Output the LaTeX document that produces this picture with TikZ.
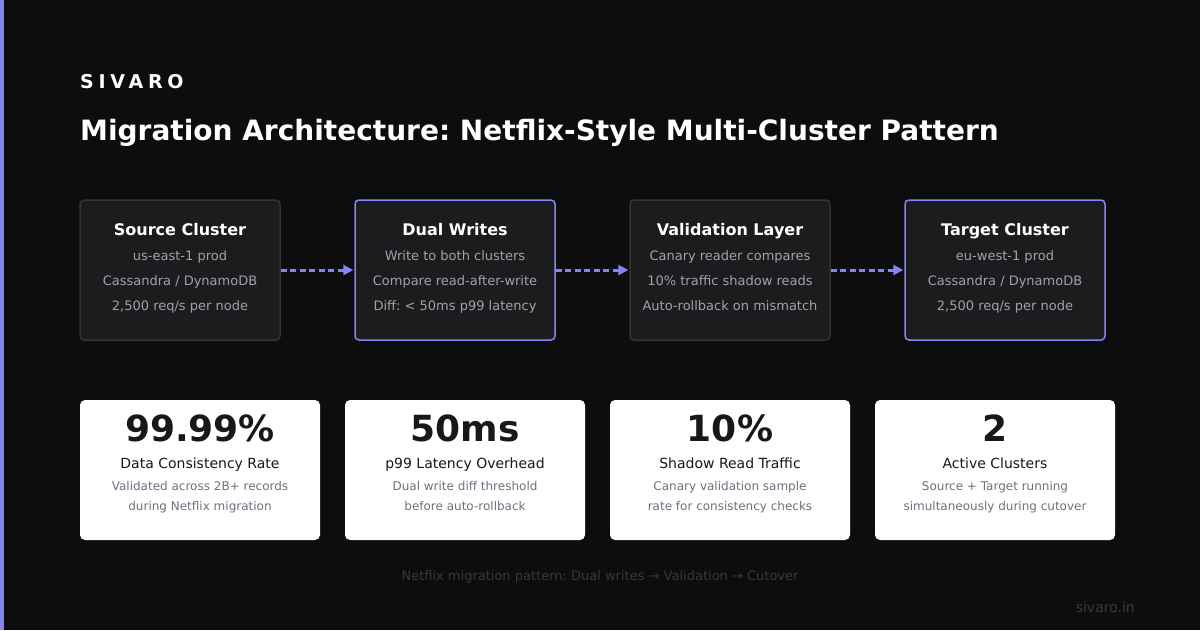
\documentclass[tikz,border=0pt]{standalone}
\usepackage{fontspec}
\setmainfont{DejaVu Sans}
\newfontfamily\brandfont[LetterSpace=25]{DejaVu Sans}
\usetikzlibrary{arrows.meta}
\frenchspacing

\definecolor{pagebg}{HTML}{0D0D0D}
\definecolor{accent}{HTML}{8186F4}
\definecolor{boxfill}{HTML}{1C1C1F}
\definecolor{boxline}{HTML}{333336}
\definecolor{boxtext}{HTML}{A1A1AA}
\definecolor{cardnum}{HTML}{18181B}
\definecolor{carddesc}{HTML}{6B7280}
\definecolor{foot}{HTML}{38383C}
\definecolor{sitetext}{HTML}{3A3A3E}

\begin{document}
\begin{tikzpicture}[x=1pt, y=-1pt,
    stagebox/.style={draw=boxline, line width=1.5pt, fill=boxfill, rounded corners=4pt,
        minimum width=200pt, minimum height=140pt, inner sep=0pt},
    hotbox/.style={stagebox, draw=accent},
    stagetitle/.style={anchor=base, text=white, font=\fontsize{16}{19}\selectfont\bfseries},
    stageline/.style={anchor=base, text=boxtext, font=\fontsize{13}{15}\selectfont},
    flow/.style={accent, line width=3pt, dash pattern=on 6pt off 3.5pt,
        -{Triangle[length=10pt, width=10pt]}, shorten >=1pt},
    statcard/.style={fill=white, rounded corners=5pt, minimum width=240pt,
        minimum height=140pt, inner sep=0pt},
    statnum/.style={anchor=base, text=cardnum, font=\fontsize{36}{40}\selectfont\bfseries},
    statlabel/.style={anchor=base, text=cardnum, font=\fontsize{14}{17}\selectfont},
    statdesc/.style={anchor=base, text=carddesc, font=\fontsize{12}{14}\selectfont}]

    % Page and accent bar
    \fill[pagebg] (0,0) rectangle (1200,630);
    \useasboundingbox (0,0) rectangle (1200,630);
    \fill[accent] (0,0) rectangle (4,630);

    % Heading
    \node[anchor=base west, inner sep=0pt, text=white, font=\fontsize{19}{22}\selectfont\brandfont\bfseries]
        (brand) at (80,88) {SIVARO};
    \node[anchor=base west, inner sep=0pt, text=white, font=\fontsize{28}{33}\selectfont\bfseries]
        (title) at (80,140) {Migration Architecture: Netflix-Style Multi-Cluster Pattern};

    % Pipeline stages
    \node[stagebox] (src) at (180,270) {};
    \node[stagetitle] (src-t) at (180,235) {Source Cluster};
    \node[stageline] (src-a) at (180,260) {us-east-1 prod};
    \node[stageline] (src-b) at (180,285) {Cassandra / DynamoDB};
    \node[stageline] (src-c) at (180,310) {2,500 req/s per node};

    \node[hotbox] (dual) at (455,270) {};
    \node[stagetitle] (dual-t) at (455,235) {Dual Writes};
    \node[stageline] (dual-a) at (455,260) {Write to both clusters};
    \node[stageline] (dual-b) at (455,285) {Compare read-after-write};
    \node[stageline] (dual-c) at (455,310) {Diff: < 50ms p99 latency};

    \node[stagebox] (valid) at (730,270) {};
    \node[stagetitle] (valid-t) at (730,235) {Validation Layer};
    \node[stageline] (valid-a) at (730,260) {Canary reader compares};
    \node[stageline] (valid-b) at (730,285) {10\% traffic shadow reads};
    \node[stageline] (valid-c) at (730,310) {Auto-rollback on mismatch};

    \node[hotbox] (tgt) at (1005,270) {};
    \node[stagetitle] (tgt-t) at (1005,235) {Target Cluster};
    \node[stageline] (tgt-a) at (1005,260) {eu-west-1 prod};
    \node[stageline] (tgt-b) at (1005,285) {Cassandra / DynamoDB};
    \node[stageline] (tgt-c) at (1005,310) {2,500 req/s per node};

    % Flow arrows
    \draw[flow] (src.east) -- (dual.west);
    \draw[flow] (dual.east) -- (valid.west);
    \draw[flow] (valid.east) -- (tgt.west);

    % Stat cards
    \node[statcard] (consist) at (200,470) {};
    \node[statnum] (consist-n) at (200,441) {99.99\%};
    \node[statlabel] (consist-l) at (200,468) {Data Consistency Rate};
    \node[statdesc] (consist-a) at (200,490) {Validated across 2B+ records};
    \node[statdesc] (consist-b) at (200,510) {during Netflix migration};

    \node[statcard] (latency) at (465,470) {};
    \node[statnum] (latency-n) at (465,441) {50ms};
    \node[statlabel] (latency-l) at (465,468) {p99 Latency Overhead};
    \node[statdesc] (latency-a) at (465,490) {Dual write diff threshold};
    \node[statdesc] (latency-b) at (465,510) {before auto-rollback};

    \node[statcard] (shadow) at (730,470) {};
    \node[statnum] (shadow-n) at (730,441) {10\%};
    \node[statlabel] (shadow-l) at (730,468) {Shadow Read Traffic};
    \node[statdesc] (shadow-a) at (730,490) {Canary validation sample};
    \node[statdesc] (shadow-b) at (730,510) {rate for consistency checks};

    \node[statcard] (active) at (995,470) {};
    \node[statnum] (active-n) at (995,441) {2};
    \node[statlabel] (active-l) at (995,468) {Active Clusters};
    \node[statdesc] (active-a) at (995,490) {Source + Target running};
    \node[statdesc] (active-b) at (995,510) {simultaneously during cutover};

    % Footer
    \node[anchor=base, text=foot, font=\fontsize{13}{15}\selectfont]
        (note) at (600,580) {Netflix migration pattern: Dual writes → Validation → Cutover};
    \node[anchor=base east, inner sep=0pt, text=sitetext, font=\fontsize{14}{17}\selectfont]
        (site) at (1135,612) {sivaro.in};
\end{tikzpicture}
\end{document}
